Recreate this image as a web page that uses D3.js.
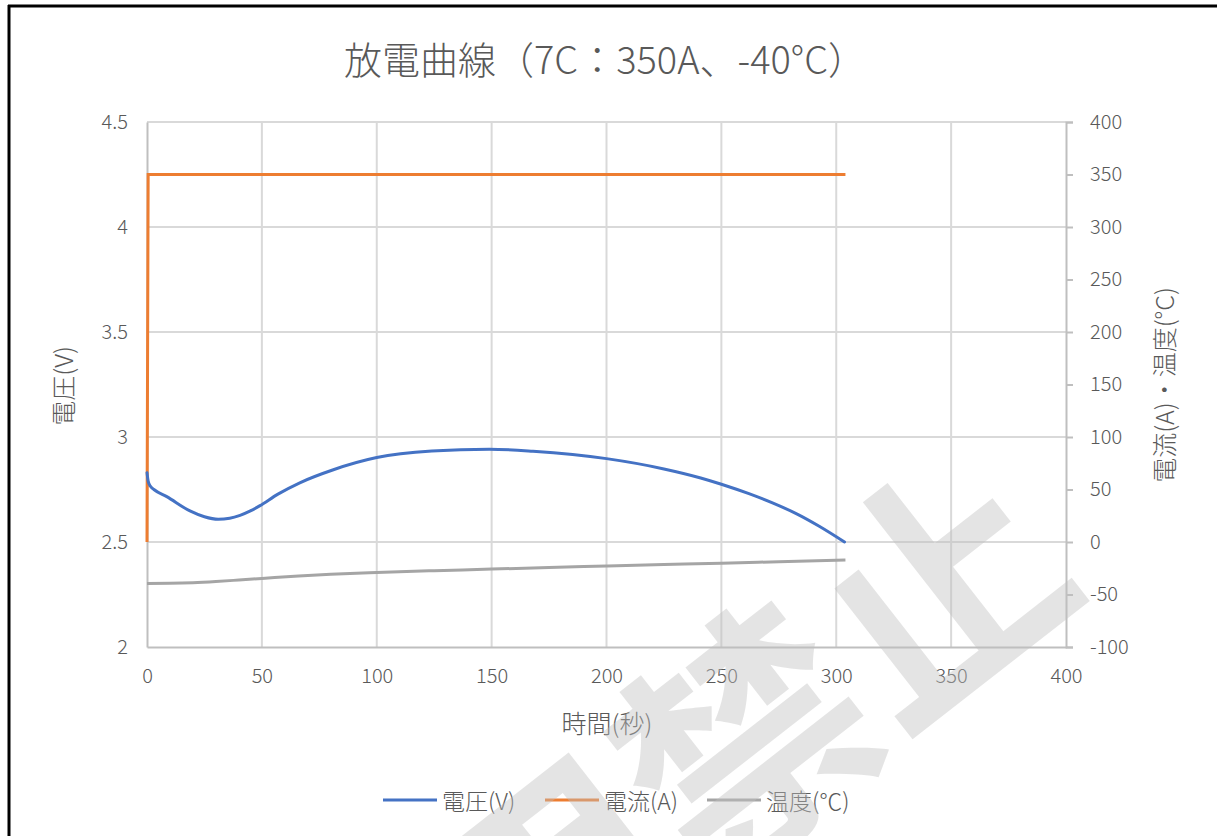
<!DOCTYPE html>
<html><head><meta charset="utf-8">
<script src="https://cdn.jsdelivr.net/npm/d3@7"></script>
<style>
html,body{margin:0;padding:0;background:#fff;}
svg text{font-family:"Noto Sans CJK JP","Noto Sans",sans-serif;font-weight:300;}
svg text.wm{font-weight:700;}
</style></head>
<body><svg id="c" width="1217" height="836"></svg>
<script>
const title = "放電曲線（7C：350A、-40°C）";
const xTitle = "時間(秒)";
const yLeftTitle = "電圧(V)";
const yRightTitle = "電流(A)・温度(°C)";
const seriesNames = ["電圧(V)", "電流(A)", "温度(℃)"];
const seriesColors = ["#4472C4", "#ED7D31", "#A5A5A5"];
const xTicks = [0, 50, 100, 150, 200, 250, 300, 350, 400];
const yLeftTicks = [2, 2.5, 3, 3.5, 4, 4.5];
const yRightTicks = [-100, -50, 0, 50, 100, 150, 200, 250, 300, 350, 400];
const watermark = "使用禁止";

// voltage (V) vs time (s)
const voltT = [0, 0.5, 1.5, 3, 8.6, 18.7, 25, 31, 36, 40.5, 45, 49, 57, 66.5, 80.8, 100, 124, 149, 168, 200, 225, 241, 250, 262, 272.5, 283, 292.6, 303.6];
const voltV = [2.83, 2.79, 2.765, 2.75, 2.716, 2.648, 2.62, 2.608, 2.613, 2.627, 2.648, 2.672, 2.728, 2.782, 2.843, 2.902, 2.933, 2.942, 2.932, 2.897, 2.848, 2.805, 2.775, 2.73, 2.685, 2.633, 2.575, 2.5];
// current (A)
const currT = [0, 0.5, 304];
const currA = [0, 350, 350];
// temperature (°C)
const tempT = [0, 10, 20, 30, 40, 50, 66, 80, 100, 125, 150, 175, 200, 225, 250, 275, 304];
const tempC = [-39.5, -39.3, -38.7, -37.6, -36.2, -34.7, -32.3, -30.7, -29, -27.3, -25.8, -24.3, -22.8, -21.4, -20.2, -18.8, -17.2];

const svg = d3.select("#c");
const L = 147, R = 1066, T = 122, B = 647;
const x = d3.scaleLinear().domain([0, 400]).range([L, R]);
const yL = d3.scaleLinear().domain([2, 4.5]).range([B, T]);
const yR = d3.scaleLinear().domain([-100, 400]).range([B, T]);
const txt = "#595959";
const FF = '"Noto Sans CJK JP","Noto Sans",sans-serif';

// frame
svg.append("line").attr("x1", 9).attr("x2", 9).attr("y1", 5).attr("y2", 836).attr("stroke", "#000").attr("stroke-width", 3);
svg.append("line").attr("x1", 8).attr("x2", 1217).attr("y1", 6).attr("y2", 6).attr("stroke", "#000").attr("stroke-width", 3);

// title
svg.append("text").attr("x", 605).attr("y", 57).attr("text-anchor", "middle").attr("dominant-baseline", "central")
  .attr("font-size", 38).attr("fill", txt).text(title);

// gridlines
const g = svg.append("g");
g.selectAll(".gx").data(xTicks.filter(d => d > 0 && d < 400)).join("line")
  .attr("x1", d => x(d)).attr("x2", d => x(d)).attr("y1", T).attr("y2", B)
  .attr("stroke", "#d9d9d9").attr("stroke-width", 2);
g.selectAll(".gy").data(yLeftTicks.filter(d => d > 2)).join("line")
  .attr("x1", L).attr("x2", R).attr("y1", d => yL(d)).attr("y2", d => yL(d))
  .attr("stroke", "#d9d9d9").attr("stroke-width", 2);

// axes
const axStyle = sel => {
  sel.select(".domain").attr("stroke", "#bfbfbf").attr("stroke-width", 2);
  sel.selectAll(".tick line").attr("stroke", "#bfbfbf").attr("stroke-width", 2);
  sel.selectAll(".tick text").attr("fill", txt).attr("font-size", 20).attr("font-family", FF);
};
const axB = svg.append("g").attr("transform", `translate(0,${B})`)
  .call(d3.axisBottom(x).tickValues(xTicks).tickSize(0).tickPadding(26).tickFormat(d => String(d))).call(axStyle);
axB.selectAll(".tick text").attr("dy", "0.5em");
const axL = svg.append("g").attr("transform", `translate(${L},0)`)
  .call(d3.axisLeft(yL).tickValues(yLeftTicks).tickSize(0).tickPadding(19).tickFormat(d => String(d))).call(axStyle);
const axR = svg.append("g").attr("transform", `translate(${R},0)`)
  .call(d3.axisRight(yR).tickValues(yRightTicks).tickSize(7).tickPadding(17).tickFormat(d => String(d))).call(axStyle);

// axis titles
svg.append("text").attr("x", 607).attr("y", 722).attr("text-anchor", "middle").attr("dominant-baseline", "central")
  .attr("font-size", 25).attr("fill", txt).text(xTitle);
svg.append("text").attr("transform", "translate(62,386) rotate(-90)").attr("text-anchor", "middle").attr("dominant-baseline", "central")
  .attr("font-size", 25).attr("fill", txt).text(yLeftTitle);
svg.append("text").attr("transform", "translate(1163,385) rotate(-90)").attr("text-anchor", "middle").attr("dominant-baseline", "central")
  .attr("font-size", 25).attr("fill", txt).text(yRightTitle);

// series
const volt = voltT.map((t, i) => [t, voltV[i]]);
const curr = currT.map((t, i) => [t, currA[i]]);
const temp = tempT.map((t, i) => [t, tempC[i]]);
svg.append("path").datum(temp).attr("fill", "none").attr("stroke", seriesColors[2]).attr("stroke-width", 3)
  .attr("d", d3.line().x(d => x(d[0])).y(d => yR(d[1])).curve(d3.curveMonotoneX));
svg.append("path").datum(curr).attr("fill", "none").attr("stroke", seriesColors[1]).attr("stroke-width", 3)
  .attr("d", d3.line().x(d => x(d[0])).y(d => yR(d[1])));
svg.append("path").datum(volt).attr("fill", "none").attr("stroke", seriesColors[0]).attr("stroke-width", 3)
  .attr("stroke-linejoin", "round").attr("stroke-linecap", "round")
  .attr("d", d3.line().x(d => x(d[0])).y(d => yL(d[1])).curve(d3.curveMonotoneX));

// legend
const legX = [383, 545, 707];
const lg = svg.append("g");
seriesNames.forEach((n, i) => {
  lg.append("line").attr("x1", legX[i]).attr("x2", legX[i] + 54).attr("y1", 800).attr("y2", 800)
    .attr("stroke", seriesColors[i]).attr("stroke-width", 3);
  lg.append("text").attr("x", legX[i] + 59).attr("y", 800).attr("dominant-baseline", "central")
    .attr("font-size", 23).attr("fill", txt).text(n);
});

// watermark
svg.append("text").attr("class", "wm").attr("transform", "translate(640,805) rotate(-38)")
  .attr("text-anchor", "middle").attr("dominant-baseline", "central")
  .attr("font-size", 245).attr("fill", "#bfbfbf").attr("fill-opacity", 0.42)
  .text(watermark);
</script></body></html>
